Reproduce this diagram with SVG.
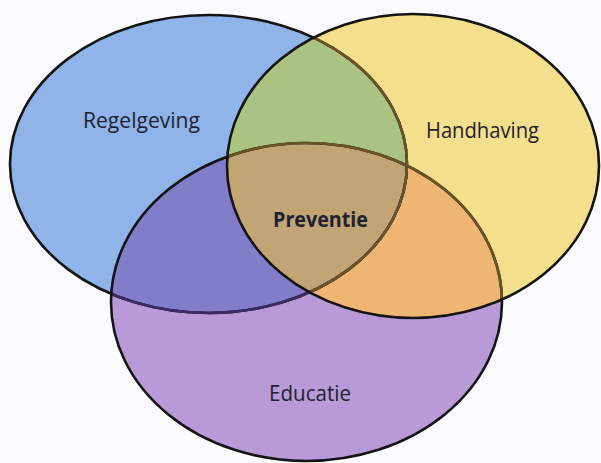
<svg xmlns="http://www.w3.org/2000/svg" xmlns:xlink="http://www.w3.org/1999/xlink" width="601" height="463" viewBox="0 0 601 463">
  <style>
    .lbl { font-family: "Open Sans", "Noto Sans", "Liberation Sans", sans-serif; font-size: 21px; fill: #1e2230; text-anchor: middle; }
    .bold { font-weight: bold; }
    .ol { fill: none; stroke: #141414; stroke-width: 2.6; }
  </style>
  <defs>
    <ellipse id="eBlue" cx="208.5" cy="164" rx="198.5" ry="149"/>
    <ellipse id="eYellow" cx="413" cy="166" rx="186" ry="152"/>
    <ellipse id="ePurple" cx="306.5" cy="302" rx="195.5" ry="159"/>
    <clipPath id="cBlue"><use xlink:href="#eBlue"/></clipPath>
    <clipPath id="cYellow"><use xlink:href="#eYellow"/></clipPath>
    <clipPath id="cPurple"><use xlink:href="#ePurple"/></clipPath>
  </defs>
  <rect width="601" height="463" fill="#fbfbfd"/>

  <g id="regelgeving">
    <use xlink:href="#eBlue" fill="#8eb4ea"/>
  </g>
  <g id="educatie">
    <use xlink:href="#ePurple" fill="#b99ad8"/>
  </g>
  <g id="handhaving">
    <use xlink:href="#eYellow" fill="#f4e08c"/>
  </g>

  <g id="overlap-blue-yellow" clip-path="url(#cYellow)">
    <use xlink:href="#eBlue" fill="#abc382"/>
  </g>
  <g id="overlap-blue-purple" clip-path="url(#cPurple)">
    <use xlink:href="#eBlue" fill="#817dc9"/>
  </g>
  <g id="overlap-purple-yellow" clip-path="url(#cYellow)">
    <use xlink:href="#ePurple" fill="#eeb672"/>
  </g>
  <g id="preventie" clip-path="url(#cYellow)">
    <g clip-path="url(#cPurple)">
      <use xlink:href="#eBlue" fill="#c1a575"/>
    </g>
  </g>

  <g id="outlines">
    <use xlink:href="#eBlue" class="ol"/>
    <g clip-path="url(#cPurple)">
      <use xlink:href="#eBlue" class="ol" style="stroke:#3b2a63"/>
    </g>
    <use xlink:href="#ePurple" class="ol"/>
    <g clip-path="url(#cYellow)">
      <use xlink:href="#eBlue" class="ol" style="stroke:#6a5426"/>
      <use xlink:href="#ePurple" class="ol" style="stroke:#6a5426"/>
    </g>
    <use xlink:href="#eYellow" class="ol"/>
  </g>

  <g id="labels">
    <text class="lbl" x="141.5" y="128" textLength="117" lengthAdjust="spacingAndGlyphs">Regelgeving</text>
    <text class="lbl" x="482.5" y="138" textLength="113" lengthAdjust="spacingAndGlyphs">Handhaving</text>
    <text class="lbl bold" x="320.5" y="227" textLength="95" lengthAdjust="spacingAndGlyphs">Preventie</text>
    <text class="lbl" x="310" y="401" textLength="82" lengthAdjust="spacingAndGlyphs">Educatie</text>
  </g>
</svg>
